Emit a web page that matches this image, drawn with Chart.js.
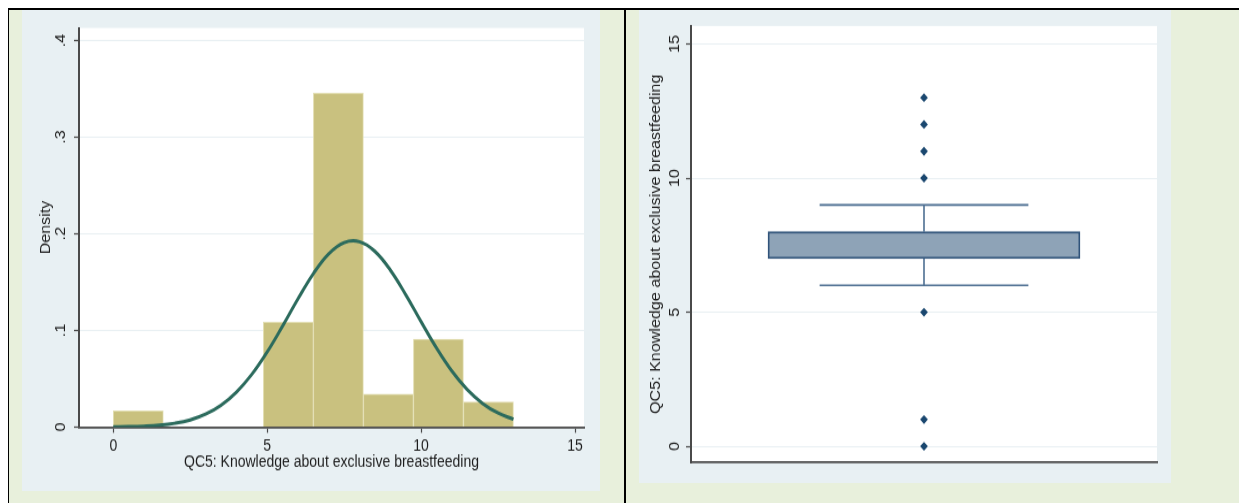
<!DOCTYPE html>
<html>
<head>
<meta charset="utf-8">
<script src="https://cdn.jsdelivr.net/npm/chart.js@4.4.1/dist/chart.umd.min.js"></script>
<style>
  html, body { margin: 0; padding: 0; background: #ffffff; width: 1239px; height: 503px; overflow: hidden; }
  #frame { position: absolute; left: 8px; top: 8px; width: 1231px; height: 495px; box-sizing: border-box;
           background: #e8f0dc; border-top: 2px solid #000; border-left: 1px solid #000; }
  #divider { position: absolute; left: 624px; top: 8px; width: 2px; height: 495px; background: #000; }
  .panel { position: absolute; background: #e8f0f3; }
  .panel canvas { position: absolute; left: 0; top: 0; transform-origin: 0 0; }
</style>
</head>
<body>
<div id="frame"></div>
<div id="divider"></div>
<div class="panel" style="left:22px; top:10px; width:578px; height:481px;">
  <canvas id="hist" width="578" height="418" style="transform: scaleY(1.15072);"></canvas>
</div>
<div class="panel" style="left:639px; top:10px; width:532px; height:473px;">
  <canvas id="box" width="532" height="411" style="transform: scaleY(1.15085);"></canvas>
</div>
<script>
// ---- Histogram (density) of QC5 scores with a fitted normal curve ----
const binEdges   = [0, 1.625, 3.25, 4.875, 6.5, 8.125, 9.75, 11.375, 13];
const binDensity = [0.0168, 0, 0, 0.1085, 0.3453, 0.034, 0.091, 0.026];
const normalX = [0, 0.5, 1, 1.5, 2, 2.5, 3, 3.5, 4, 4.5, 5, 5.5, 6, 6.5, 7, 7.5, 8, 8.5, 9, 9.5, 10, 10.5, 11, 11.5, 12, 12.5, 13];
const normalDensity = [0.0002, 0.0004, 0.0009, 0.0019, 0.0039, 0.0074, 0.0133, 0.0225, 0.0361, 0.0545,
                       0.0777, 0.1045, 0.1326, 0.1587, 0.1792, 0.1908, 0.1917, 0.1817, 0.1624, 0.1370,
                       0.1090, 0.0818, 0.0579, 0.0387, 0.0244, 0.0145, 0.0081];
const histXTicks = [0, 5, 10, 15];
const histYTicks = [0, 0.1, 0.2, 0.3, 0.4];
const histYTickLabels = ['0', '.1', '.2', '.3', '.4'];

// ---- Box plot summary of the same scores ----
const boxQuartiles = [7, 8];
const boxWhiskers = [6, 9];
const boxOutliers = [0, 1, 5, 10, 11, 12, 13];
const boxYTicks = [0, 5, 10, 15];

const varLabel = 'QC5: Knowledge about exclusive breastfeeding';
const densityLabel = 'Density';

// ---- styling ----
const FONT = { family: '"Liberation Sans", Arial, "DejaVu Sans", sans-serif', size: 14 };
const INK = '#1c1c1c';
const AXIS = '#4a4a4a';
const GRID = '#e9f0f3';
const boxCenter = 0.5;
const capHalfWidth = 0.224;

const plotFill = {
  id: 'plotFill',
  beforeDraw(chart) {
    const { ctx, chartArea: a } = chart;
    ctx.save();
    ctx.fillStyle = '#ffffff';
    ctx.fillRect(a.left, a.top, a.right - a.left, a.bottom - a.top);
    ctx.restore();
  }
};
const fixedWidth = w => s => { s.width = w; };
const fixedHeight = h => s => { s.height = h; };
const setTicks = values => s => { s.ticks = values.map(v => ({ value: v })); };

new Chart(document.getElementById('hist'), {
  type: 'bar',
  data: {
    datasets: [
      {
        type: 'line',
        data: normalX.map((x, i) => ({ x, y: normalDensity[i] })),
        borderColor: '#2c6b5d', borderWidth: 3, pointRadius: 0, tension: 0.4, fill: false, order: 0
      },
      {
        type: 'bar',
        data: binDensity.map((d, i) => ({ x: (binEdges[i] + binEdges[i + 1]) / 2, y: d })),
        backgroundColor: '#c9c17f', borderColor: '#e2deb2', borderWidth: 1, borderSkipped: 'start',
        barPercentage: 1, categoryPercentage: 1, order: 1
      }
    ]
  },
  options: {
    responsive: false, animation: false, devicePixelRatio: 1,
    layout: { padding: { top: 13.9, right: 16, bottom: 0, left: 0 } },
    plugins: { legend: { display: false }, tooltip: { enabled: false } },
    scales: {
      x: {
        type: 'linear', min: -1.114, max: 15.292, offset: false,
        afterBuildTicks: setTicks(histXTicks), afterFit: fixedHeight(55.6),
        grid: { display: true, drawOnChartArea: false, drawTicks: true, tickLength: 5, tickColor: AXIS, tickWidth: 1.2, offset: false },
        border: { display: true, color: AXIS, width: 1.7 },
        ticks: { font: FONT, color: INK, padding: 3.1, maxRotation: 0, autoSkip: false, callback: v => String(v) },
        title: { display: true, text: varLabel, font: FONT, color: INK, padding: { top: 0, bottom: 16.6 } }
      },
      y: {
        type: 'linear', min: 0, max: 0.4129,
        afterBuildTicks: setTicks(histYTicks), afterFit: fixedWidth(57),
        grid: { color: GRID, lineWidth: 1, drawTicks: true, tickLength: 5, tickColor: AXIS, tickWidth: 1.2 },
        border: { display: true, color: AXIS, width: 2 },
        ticks: { font: FONT, color: INK, padding: 7.2, minRotation: 90, maxRotation: 90, crossAlign: 'center',
                 autoSkip: false, callback: (v, i) => histYTickLabels[i] },
        title: { display: true, text: densityLabel, font: FONT, color: INK, padding: { top: 15.6, bottom: 0 } }
      }
    }
  },
  plugins: [plotFill]
});

const segment = (x1, y1, x2, y2, color, width, order) => ({
  type: 'line', data: [{ x: x1, y: y1 }, { x: x2, y: y2 }],
  borderColor: color, borderWidth: width, pointRadius: 0, fill: false, order
});
const WHISKER = '#4d6f92';

new Chart(document.getElementById('box'), {
  type: 'bar',
  data: {
    datasets: [
      {
        type: 'scatter', data: boxOutliers.map(y => ({ x: boxCenter, y })),
        pointStyle: 'rectRot', pointRadius: 3.9, backgroundColor: '#1a476f', borderWidth: 0, order: 0
      },
      segment(boxCenter, boxQuartiles[1], boxCenter, boxWhiskers[1], WHISKER, 1.6, 1),
      segment(boxCenter, boxWhiskers[0], boxCenter, boxQuartiles[0], WHISKER, 1.6, 1),
      segment(boxCenter - capHalfWidth, boxWhiskers[1], boxCenter + capHalfWidth, boxWhiskers[1], WHISKER, 1.6, 1),
      segment(boxCenter - capHalfWidth, boxWhiskers[0], boxCenter + capHalfWidth, boxWhiskers[0], WHISKER, 1.6, 1),
      {
        type: 'bar', data: [{ x: boxCenter, y: boxQuartiles }],
        barThickness: 312, backgroundColor: '#8ea3b7', borderColor: '#30537a', borderWidth: 1.8,
        borderSkipped: false, order: 3
      }
    ]
  },
  options: {
    responsive: false, animation: false, devicePixelRatio: 1,
    layout: { padding: { top: 13.9, right: 14, bottom: 0, left: 0 } },
    plugins: { legend: { display: false }, tooltip: { enabled: false } },
    scales: {
      x: {
        type: 'linear', min: 0, max: 1, offset: false, afterFit: fixedHeight(17.8),
        grid: { display: false, offset: false },
        border: { display: true, color: AXIS, width: 1.7 },
        ticks: { display: false }
      },
      y: {
        type: 'linear', min: -0.604, max: 15.671,
        afterBuildTicks: setTicks(boxYTicks), afterFit: fixedWidth(52),
        grid: { color: GRID, lineWidth: 1, drawTicks: true, tickLength: 5, tickColor: AXIS, tickWidth: 1.2 },
        border: { display: true, color: AXIS, width: 2 },
        ticks: { font: FONT, color: INK, padding: 2.7, minRotation: 90, maxRotation: 90, crossAlign: 'center',
                 autoSkip: false, callback: v => String(v) },
        title: { display: true, text: varLabel, font: FONT, color: INK, padding: { top: 8.3, bottom: 0 } }
      }
    }
  },
  plugins: [plotFill]
});
</script>
</body>
</html>
